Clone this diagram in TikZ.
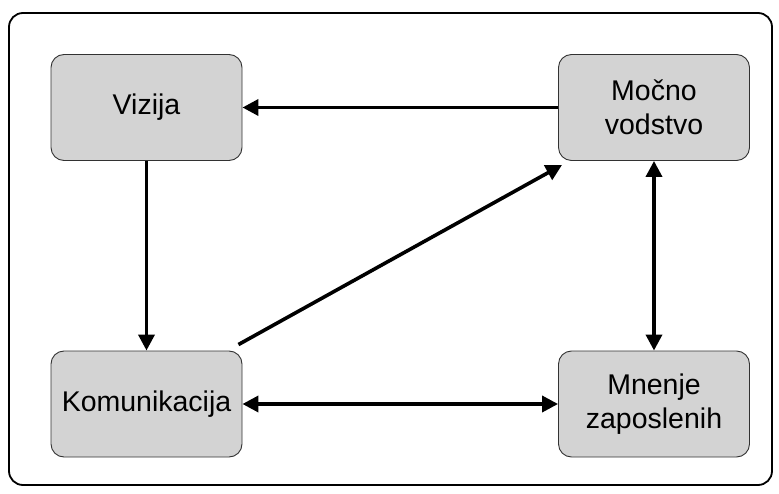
\documentclass[tikz,border=0pt]{standalone}
\usepackage{fontspec}
\setmainfont{Liberation Sans}
\usetikzlibrary{arrows.meta}
\definecolor{boxfill}{RGB}{211,211,211}
\definecolor{boxline}{RGB}{50,50,50}
\begin{document}
\begin{tikzpicture}[x=1pt,y=-1pt,
  stage/.style={draw=boxline, line width=0.9pt, fill=boxfill, rounded corners=13pt,
    minimum width=191pt, minimum height=106pt, inner sep=0pt, align=center,
    font=\fontsize{28.5}{34}\selectfont},
  tip/.style={Triangle[length=16pt,width=16pt]},
  link/.style={line width=3.6pt, -{Triangle[length=16pt,width=16pt]}},
  duplex/.style={line width=3.6pt, {Triangle[length=16pt,width=16pt]}-{Triangle[length=16pt,width=16pt]}}]
  \useasboundingbox (0,0) rectangle (779,494);
  \draw[line width=1.8pt, rounded corners=14pt] (9,13) rectangle (772,485);

  \node[stage] (viz) at (146.5,107.5) {Vizija};
  \node[stage] (voj) at (654,107.5) {Močno\\vodstvo};
  \node[stage] (kom) at (146.5,404) {Komunikacija};
  \node[stage] (mne) at (654,404) {Mnenje\\zaposlenih};

  \draw[link] (voj.west) -- (viz.east);
  \draw[link] (viz.south) -- (kom.north);
  \draw[link] ([shift={(-4pt,6pt)}]kom.north east) -- ([shift={(4pt,-4pt)}]voj.south west);
  \draw[duplex] (kom.east) -- (mne.west);
  \draw[duplex] (voj.south) -- (mne.north);
\end{tikzpicture}
\end{document}
